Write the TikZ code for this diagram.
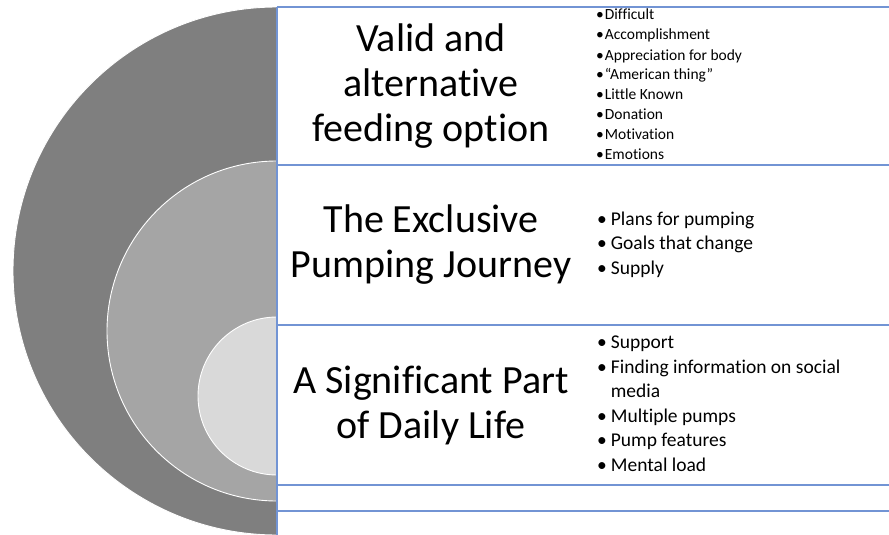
\documentclass[tikz,border=0pt]{standalone}
\usepackage{fontspec}
\setmainfont{Carlito}[Ligatures=NoCommon]
\usepackage{tikz}

\definecolor{ringdark}{RGB}{127,127,127}
\definecolor{ringmid}{RGB}{165,165,165}
\definecolor{ringlight}{RGB}{217,217,217}
\definecolor{gridblue}{RGB}{114,148,212}

\begin{document}
\begin{tikzpicture}[x=1pt,y=-1pt,
  gridline/.style={draw=gridblue, line width=1.3pt},
  ring/.style={draw=white, line width=0.9pt},
  heading/.style={align=center, inner sep=0pt, font=\fontsize{40}{45}\selectfont},
  smalllist/.style={anchor=west, inner sep=0pt, font=\fontsize{15.5}{20}\selectfont},
  biglist/.style={anchor=west, inner sep=0pt, font=\fontsize{19.5}{24.6}\selectfont}]

\useasboundingbox (0,0) rectangle (889,535);

% Nested half discs on the left
\begin{scope}
\clip (0,0) rectangle (277,535);
\filldraw[ring, fill=ringdark] (277,271) circle[radius=264];
\filldraw[ring, fill=ringmid] (277,331) circle[radius=170];
\filldraw[ring, fill=ringlight] (277,396) circle[radius=79];
\end{scope}

% Row borders
\draw[gridline] (277,7) -- (277,535);
\foreach \y in {7,165,325,485,511}
  \draw[gridline] (277,\y) -- (889,\y);

% Headings
\node [heading] (valid) at (431,86) {Valid and\\alternative\\feeding option};
\node [heading] (journey) at (431,245) {The Exclusive\\Pumping Journey};
\node [heading] (daily) at (431,405) {A Significant Part\\of Daily Life};

% Bullet lists
\node [smalllist] (validlist) at (596,86) {\begin{tabular}{@{}l@{\hspace{1pt}}l@{}}
\textbullet & Difficult\\
\textbullet & Accomplishment\\
\textbullet & Appreciation for body\\
\textbullet & “American thing”\\
\textbullet & Little Known\\
\textbullet & Donation\\
\textbullet & Motivation\\
\textbullet & Emotions
\end{tabular}};

\node [biglist] (journeylist) at (597,245) {\begin{tabular}{@{}l@{\hspace{4pt}}l@{}}
\textbullet & Plans for pumping\\
\textbullet & Goals that change\\
\textbullet & Supply
\end{tabular}};

\node [biglist] (dailylist) at (597,405) {\begin{tabular}{@{}l@{\hspace{4pt}}l@{}}
\textbullet & Support\\
\textbullet & Finding information on social\\
 & media\\
\textbullet & Multiple pumps\\
\textbullet & Pump features\\
\textbullet & Mental load
\end{tabular}};

\end{tikzpicture}
\end{document}
